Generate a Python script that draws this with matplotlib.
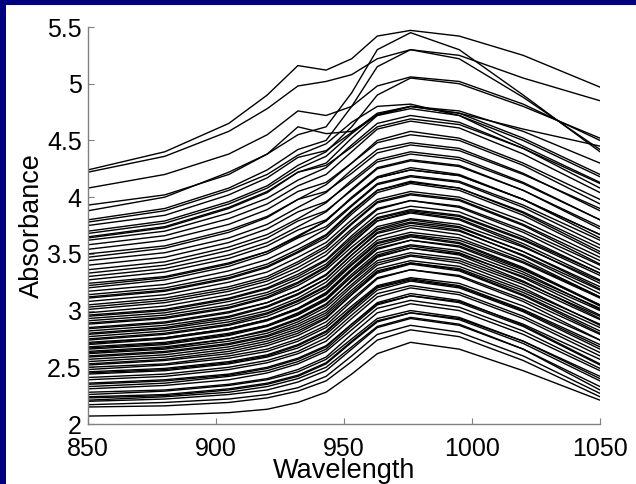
import matplotlib
matplotlib.use("Agg")
import matplotlib.pyplot as plt
from matplotlib.patches import Rectangle

wavelength = [850, 880, 905, 920, 932, 943, 953, 963, 976, 995, 1020, 1050]

# absorbance spectra, low baseline group
low_spectra = [
    [2.07, 2.08, 2.10, 2.13, 2.19, 2.28, 2.44, 2.62, 2.72, 2.66, 2.47, 2.21],
    [2.15, 2.16, 2.19, 2.23, 2.29, 2.38, 2.55, 2.74, 2.83, 2.77, 2.56, 2.24],
    [2.17, 2.19, 2.22, 2.26, 2.32, 2.42, 2.60, 2.79, 2.87, 2.81, 2.60, 2.27],
    [2.20, 2.22, 2.26, 2.30, 2.37, 2.47, 2.66, 2.85, 2.93, 2.87, 2.66, 2.33],
    [2.21, 2.24, 2.28, 2.33, 2.40, 2.50, 2.68, 2.86, 2.94, 2.88, 2.66, 2.30],
    [2.23, 2.25, 2.30, 2.35, 2.42, 2.53, 2.72, 2.90, 2.98, 2.92, 2.71, 2.38],
    [2.24, 2.26, 2.31, 2.36, 2.43, 2.54, 2.73, 2.91, 2.98, 2.93, 2.73, 2.42],
    [2.26, 2.29, 2.34, 2.39, 2.46, 2.57, 2.75, 2.93, 3.00, 2.94, 2.73, 2.40],
    [2.28, 2.30, 2.35, 2.40, 2.48, 2.59, 2.79, 2.98, 3.06, 3.00, 2.79, 2.47],
    [2.31, 2.34, 2.39, 2.45, 2.53, 2.64, 2.83, 3.02, 3.09, 3.03, 2.82, 2.49],
    [2.33, 2.36, 2.42, 2.47, 2.55, 2.66, 2.86, 3.05, 3.13, 3.07, 2.86, 2.52],
    [2.35, 2.38, 2.43, 2.49, 2.57, 2.68, 2.88, 3.07, 3.15, 3.09, 2.87, 2.53],
    [2.36, 2.39, 2.44, 2.50, 2.58, 2.69, 2.88, 3.06, 3.13, 3.08, 2.88, 2.57],
    [2.39, 2.42, 2.48, 2.54, 2.62, 2.73, 2.93, 3.12, 3.20, 3.14, 2.93, 2.60],
    [2.41, 2.44, 2.50, 2.56, 2.64, 2.76, 2.96, 3.15, 3.22, 3.16, 2.95, 2.63],
    [2.44, 2.47, 2.53, 2.59, 2.67, 2.79, 2.99, 3.18, 3.26, 3.20, 2.99, 2.66],
    [2.45, 2.48, 2.54, 2.60, 2.69, 2.81, 3.01, 3.20, 3.27, 3.21, 3.00, 2.68],
    [2.46, 2.49, 2.55, 2.61, 2.70, 2.82, 3.02, 3.21, 3.28, 3.22, 3.01, 2.70],
    [2.48, 2.52, 2.58, 2.64, 2.73, 2.85, 3.04, 3.22, 3.29, 3.24, 3.04, 2.74],
]

# middle group (the dense band)
mid_spectra = [
    [2.50, 2.53, 2.60, 2.66, 2.75, 2.87, 3.08, 3.28, 3.36, 3.30, 3.08, 2.74],
    [2.52, 2.56, 2.62, 2.69, 2.78, 2.90, 3.10, 3.29, 3.36, 3.31, 3.10, 2.79],
    [2.53, 2.57, 2.64, 2.71, 2.80, 2.93, 3.14, 3.34, 3.42, 3.36, 3.14, 2.82],
    [2.55, 2.59, 2.66, 2.73, 2.82, 2.94, 3.14, 3.33, 3.41, 3.35, 3.13, 2.80],
    [2.57, 2.61, 2.68, 2.75, 2.84, 2.96, 3.16, 3.35, 3.42, 3.37, 3.16, 2.85],
    [2.59, 2.63, 2.70, 2.77, 2.86, 2.98, 3.18, 3.37, 3.44, 3.39, 3.18, 2.88],
    [2.60, 2.64, 2.71, 2.78, 2.88, 3.00, 3.21, 3.40, 3.48, 3.42, 3.20, 2.87],
    [2.62, 2.66, 2.73, 2.80, 2.90, 3.03, 3.23, 3.42, 3.49, 3.44, 3.23, 2.92],
    [2.63, 2.67, 2.75, 2.82, 2.92, 3.05, 3.27, 3.47, 3.55, 3.49, 3.26, 2.93],
    [2.64, 2.68, 2.75, 2.83, 2.93, 3.06, 3.26, 3.44, 3.51, 3.46, 3.25, 2.95],
    [2.66, 2.70, 2.78, 2.86, 2.96, 3.09, 3.30, 3.49, 3.57, 3.51, 3.29, 2.96],
    [2.67, 2.71, 2.79, 2.87, 2.98, 3.11, 3.32, 3.51, 3.58, 3.53, 3.32, 3.02],
    [2.68, 2.72, 2.80, 2.87, 2.97, 3.10, 3.30, 3.48, 3.55, 3.50, 3.30, 3.00],
    [2.70, 2.75, 2.83, 2.91, 3.01, 3.14, 3.35, 3.54, 3.62, 3.56, 3.34, 3.01],
    [2.71, 2.76, 2.84, 2.92, 3.02, 3.16, 3.37, 3.57, 3.65, 3.59, 3.37, 3.04],
    [2.72, 2.76, 2.84, 2.92, 3.02, 3.15, 3.36, 3.55, 3.62, 3.57, 3.36, 3.05],
    [2.74, 2.79, 2.87, 2.95, 3.06, 3.19, 3.40, 3.59, 3.66, 3.60, 3.38, 3.05],
    [2.75, 2.80, 2.88, 2.97, 3.08, 3.21, 3.41, 3.60, 3.67, 3.62, 3.42, 3.11],
    [2.77, 2.82, 2.90, 2.98, 3.09, 3.22, 3.43, 3.62, 3.69, 3.64, 3.43, 3.12],
    [2.79, 2.84, 2.92, 3.00, 3.11, 3.25, 3.46, 3.65, 3.73, 3.67, 3.45, 3.12],
    [2.80, 2.85, 2.94, 3.03, 3.14, 3.28, 3.49, 3.69, 3.77, 3.71, 3.48, 3.15],
    [2.82, 2.87, 2.95, 3.04, 3.15, 3.28, 3.49, 3.68, 3.75, 3.70, 3.49, 3.18],
    [2.84, 2.89, 2.98, 3.07, 3.18, 3.31, 3.52, 3.71, 3.78, 3.73, 3.52, 3.21],
    [2.85, 2.90, 2.99, 3.07, 3.18, 3.32, 3.53, 3.72, 3.80, 3.74, 3.52, 3.19],
    [2.88, 2.93, 3.02, 3.11, 3.22, 3.36, 3.56, 3.74, 3.81, 3.76, 3.56, 3.26],
    [2.89, 2.94, 3.03, 3.12, 3.24, 3.38, 3.59, 3.79, 3.86, 3.80, 3.57, 3.24],
    [2.91, 2.96, 3.05, 3.14, 3.25, 3.39, 3.60, 3.79, 3.87, 3.81, 3.59, 3.27],
    [2.93, 2.98, 3.08, 3.16, 3.28, 3.41, 3.62, 3.81, 3.88, 3.83, 3.62, 3.31],
    [2.95, 3.00, 3.10, 3.19, 3.30, 3.44, 3.64, 3.82, 3.89, 3.84, 3.63, 3.33],
    [2.96, 3.01, 3.11, 3.20, 3.32, 3.45, 3.66, 3.85, 3.92, 3.87, 3.65, 3.33],
    [2.98, 3.04, 3.14, 3.23, 3.35, 3.49, 3.70, 3.89, 3.97, 3.91, 3.69, 3.36],
    [3.01, 3.07, 3.17, 3.26, 3.38, 3.52, 3.72, 3.90, 3.97, 3.92, 3.71, 3.40],
    [3.03, 3.09, 3.19, 3.28, 3.41, 3.55, 3.76, 3.95, 4.02, 3.97, 3.75, 3.41],
    [3.05, 3.11, 3.21, 3.30, 3.43, 3.57, 3.77, 3.96, 4.03, 3.98, 3.76, 3.44],
    [3.08, 3.14, 3.25, 3.34, 3.47, 3.60, 3.80, 3.98, 4.05, 4.00, 3.79, 3.47],
    [3.11, 3.17, 3.28, 3.38, 3.51, 3.64, 3.85, 4.04, 4.12, 4.06, 3.84, 3.50],
    [3.12, 3.18, 3.29, 3.39, 3.52, 3.66, 3.87, 4.06, 4.14, 4.08, 3.86, 3.52],
    [3.14, 3.20, 3.31, 3.41, 3.54, 3.67, 3.88, 4.06, 4.13, 4.08, 3.87, 3.55],
]

# upper group, several with the fat band near 930 nm
high_spectra = [
    [3.17, 3.23, 3.35, 3.45, 3.58, 3.72, 3.92, 4.11, 4.18, 4.13, 3.91, 3.58],
    [3.20, 3.27, 3.39, 3.50, 3.64, 3.74, 3.93, 4.12, 4.19, 4.14, 3.93, 3.62],
    [3.22, 3.29, 3.41, 3.52, 3.66, 3.79, 3.99, 4.17, 4.24, 4.19, 3.98, 3.67],
    [3.24, 3.30, 3.42, 3.52, 3.65, 3.79, 4.00, 4.18, 4.26, 4.20, 3.98, 3.64],
    [3.27, 3.34, 3.46, 3.57, 3.71, 3.80, 3.99, 4.17, 4.24, 4.19, 3.98, 3.67],
    [3.30, 3.37, 3.49, 3.60, 3.74, 3.87, 4.07, 4.26, 4.33, 4.28, 4.06, 3.72],
    [3.33, 3.40, 3.53, 3.64, 3.79, 3.88, 4.06, 4.25, 4.32, 4.27, 4.06, 3.74],
    [3.36, 3.43, 3.56, 3.67, 3.81, 3.95, 4.15, 4.33, 4.40, 4.35, 4.13, 3.80],
    [3.40, 3.47, 3.60, 3.72, 3.87, 3.96, 4.13, 4.31, 4.38, 4.33, 4.12, 3.80],
    [3.44, 3.51, 3.64, 3.76, 3.91, 4.04, 4.24, 4.42, 4.48, 4.43, 4.21, 3.88],
    [3.47, 3.55, 3.69, 3.82, 3.98, 4.05, 4.21, 4.39, 4.46, 4.41, 4.20, 3.90],
    [3.50, 3.57, 3.71, 3.83, 3.98, 4.11, 4.30, 4.48, 4.55, 4.50, 4.28, 3.94],
    [3.54, 3.62, 3.76, 3.89, 4.05, 4.13, 4.30, 4.50, 4.58, 4.52, 4.30, 3.98],
    [3.58, 3.66, 3.81, 3.94, 4.10, 4.20, 4.40, 4.60, 4.67, 4.61, 4.38, 4.04],
    [3.62, 3.70, 3.86, 3.99, 4.15, 4.26, 4.46, 4.65, 4.72, 4.66, 4.43, 4.08],
    [3.64, 3.73, 3.90, 4.04, 4.22, 4.30, 4.52, 4.72, 4.78, 4.72, 4.50, 4.18],
    [3.65, 3.74, 3.91, 4.05, 4.22, 4.28, 4.44, 4.62, 4.69, 4.64, 4.43, 4.12],
    [3.68, 3.77, 3.94, 4.08, 4.25, 4.36, 4.56, 4.73, 4.80, 4.74, 4.52, 4.20],
    [3.70, 3.79, 3.96, 4.10, 4.28, 4.40, 4.62, 4.90, 5.05, 5.00, 4.80, 4.52],
    [3.75, 3.84, 4.02, 4.17, 4.35, 4.41, 4.57, 4.74, 4.80, 4.76, 4.58, 4.30],
    [3.78, 3.88, 4.06, 4.20, 4.37, 4.47, 4.66, 4.80, 4.82, 4.72, 4.45, 4.13],
    [3.80, 3.90, 4.08, 4.24, 4.42, 4.50, 4.80, 5.15, 5.30, 5.22, 4.88, 4.42],
    [3.88, 4.00, 4.22, 4.38, 4.55, 4.62, 4.92, 5.30, 5.45, 5.30, 4.90, 4.40],
    [3.93, 4.02, 4.20, 4.38, 4.62, 4.56, 4.58, 4.72, 4.80, 4.74, 4.60, 4.45],
    [4.08, 4.20, 4.38, 4.55, 4.76, 4.72, 4.80, 4.98, 5.06, 5.02, 4.82, 4.50],
    [4.22, 4.36, 4.58, 4.78, 4.98, 5.02, 5.08, 5.22, 5.30, 5.25, 5.05, 4.85],
    [4.24, 4.40, 4.65, 4.90, 5.16, 5.12, 5.22, 5.42, 5.47, 5.42, 5.25, 4.97],
]

x_ticks = [850, 900, 950, 1000, 1050]
y_ticks = [2, 2.5, 3, 3.5, 4, 4.5, 5, 5.5]
y_tick_labels = ["2", "2.5", "3", "3.5", "4", "4.5", "5", "5.5"]

plt.rcParams["font.family"] = ["Liberation Sans", "DejaVu Sans"]

fig = plt.figure(figsize=(6.36, 4.84), dpi=100, facecolor="#000080")
# white panel, navy strip only on the left and top
fig.patches.append(Rectangle((6 / 636, 0), 1, 1 - 5 / 484, transform=fig.transFigure,
                             facecolor="white", edgecolor="none", zorder=-5))

ax = fig.add_axes([88 / 636, 60 / 484, 512 / 636, 397 / 484])
ax.set_facecolor("none")
for spec in low_spectra + mid_spectra + high_spectra:
    ax.plot(wavelength, spec, color="black", lw=1.0)

ax.set_xlim(850, 1050)
ax.set_ylim(2, 5.5)
ax.set_xticks(x_ticks)
ax.set_yticks(y_ticks)
ax.set_yticklabels(y_tick_labels)
ax.tick_params(direction="in", length=4, color="#808080", labelsize=18, pad=4.5)
ax.tick_params(axis="x", pad=9)

for side in ["top", "right"]:
    ax.spines[side].set_visible(False)
for side in ["left", "bottom"]:
    ax.spines[side].set_color("#808080")
    ax.spines[side].set_linewidth(1)

ax.set_xlabel("Wavelength", fontsize=19.5, labelpad=-1.5)
ax.set_ylabel("Absorbance", fontsize=19.5, labelpad=1.5)

fig.savefig("out.png", dpi=100, facecolor=fig.get_facecolor())
